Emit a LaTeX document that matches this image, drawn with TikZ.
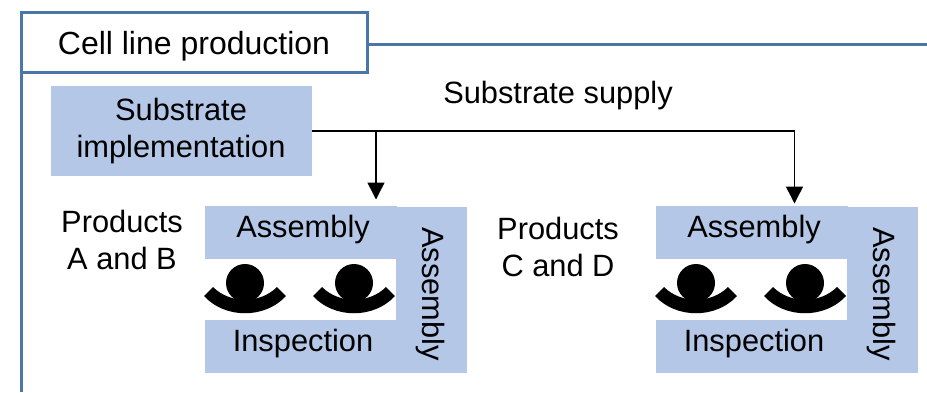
\documentclass[tikz,border=0pt]{standalone}
\usepackage{fontspec}
\setmainfont{Liberation Sans}
\usetikzlibrary{arrows.meta}
\definecolor{frameblue}{HTML}{4A76A8}
\definecolor{boxblue}{HTML}{B4C7E7}
\tikzset{
  blk/.style={fill=boxblue,draw=none,inner sep=0pt},
  lbl/.style={inner sep=0pt,font=\fontsize{30.8}{37}\selectfont,align=center,text=black},
  conn/.style={draw=black,line width=1.5pt},
  arr/.style={conn,-{Triangle[length=17pt,width=17pt]}},
  frameline/.style={draw=frameblue,line width=3pt},
  person/.pic={
    \fill[black] (0,0) circle (19);
    \fill[black] (-41,13) -- (-32,4) .. controls (-15,21) and (15,21) .. (32,4) -- (41,13) .. controls (20,36) and (-20,36) .. (-41,13) -- cycle;
  }
}
\newcommand{\blockgroup}[3]{%
  \begin{scope}[shift={(#1,0)}]
    \node[blk,minimum width=192pt,minimum height=53pt] (top#2) at (301,#3+232.5) {};
    \node[blk,minimum width=71pt,minimum height=166pt] (side#2) at (431.5,#3+290) {};
    \node[blk,minimum width=192pt,minimum height=53pt] (bot#2) at (301,#3+346.5) {};
    \node[lbl] (toplbl#2) at (303,#3+230) {Assembly};
    \node[lbl] (botlbl#2) at (303,#3+344) {Inspection};
    \node[lbl,rotate=-90] (sidelbl#2) at (430,#3+294) {Assembly};
    \pic at (245,#3+283) {person};
    \pic at (354,#3+283) {person};
  \end{scope}}
\begin{document}
\begin{tikzpicture}[x=1pt,y=-1pt]
\useasboundingbox (0,0) rectangle (927,392);
\node[blk,minimum width=261pt,minimum height=90pt] (sub) at (181.5,131) {};
\node[lbl] (subtext) at (181,131.5) {Substrate\\[0pt]implementation};
\blockgroup{0}{a}{0}
\blockgroup{451}{b}{0}
\coordinate (frameTL) at (21.5,12);
\coordinate (frameBL) at (21.5,392);
\coordinate (ruleEnd) at (927,44);
\node[draw=frameblue,line width=3pt,fill=white,outer sep=0pt,minimum width=345.5pt,minimum height=60pt,inner sep=0pt,anchor=north west] (title) at (frameTL) {};
\node[lbl,font=\fontsize{32}{38}\selectfont] (titletext) at (194,46.5) {Cell line production};
\draw[frameline] (title.south west) -- (frameBL);
\draw[frameline] (title.east |- ruleEnd) -- (ruleEnd);
\coordinate (j1) at (376,131);
\coordinate (j2) at (794.5,131);
\coordinate (t1) at (376,199.5);
\coordinate (t2) at (794.5,203.5);
\draw[conn] (sub.east |- j1) -- (j2);
\draw[arr] (j1) -- (t1);
\draw[arr] (j2) -- (t2);
\node[lbl] (supply) at (558,96) {Substrate supply};
\node[lbl] (ab) at (122,240) {Products\\[0pt]A and B};
\node[lbl] (cd) at (558,247) {Products\\[0pt]C and D};
\end{tikzpicture}
\end{document}
